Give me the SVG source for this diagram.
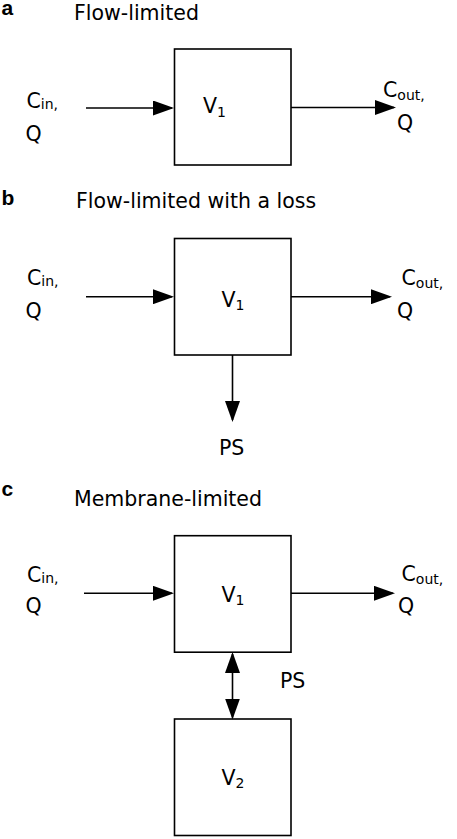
<svg xmlns="http://www.w3.org/2000/svg" width="457" height="839" viewBox="0 0 457 839">
<style>
text{font-family:"DejaVu Sans","Liberation Sans",sans-serif;font-size:20.5px;fill:#000}
.sub{font-size:14px}
.lbl{font-family:"Liberation Sans",Arial,sans-serif;font-weight:bold;font-size:21px}
.box{fill:#fff;stroke:#000;stroke-width:1.6}
.con line{stroke:#000;stroke-width:1.6;fill:none}
</style>
<defs>
<marker id="ah" markerUnits="userSpaceOnUse" viewBox="0 0 21 15" markerWidth="21" markerHeight="15" refX="19" refY="7.5" orient="auto-start-reverse">
<path d="M0,0 L21,7.5 L0,15 Z" fill="#000"/>
</marker>
</defs>
<rect width="457" height="839" fill="#fff"/>

<!-- Panel a -->
<text class="lbl" x="1.5" y="14.5">a</text>
<text x="74" y="19.5">Flow-limited</text>
<g id="a-V1">
<rect class="box" x="174.5" y="49" width="116.5" height="116"/>
<text x="203" y="113.3">V<tspan class="sub" dy="3.4">1</tspan></text>
</g>
<g id="a-in"><text x="26.5" y="108.3">C<tspan class="sub" dy="1">in,</tspan></text><text x="25.5" y="140.5">Q</text></g>
<g id="a-out"><text x="383" y="96.7">C<tspan class="sub" dy="3">out,</tspan></text><text x="397" y="130">Q</text></g>

<!-- Panel b -->
<text class="lbl" x="1.5" y="205">b</text>
<text x="76" y="208">Flow-limited with a loss</text>
<g id="b-V1">
<rect class="box" x="174.5" y="238.5" width="116.5" height="116.5"/>
<text x="221.5" y="306.7">V<tspan class="sub" dy="3.4">1</tspan></text>
</g>
<g id="b-in"><text x="27" y="285">C<tspan class="sub" dy="1">in,</tspan></text><text x="25.5" y="318">Q</text></g>
<g id="b-out"><text x="401.5" y="285">C<tspan class="sub" dy="3">out,</tspan></text><text x="397" y="318">Q</text></g>
<g id="b-PS"><text x="219" y="455">PS</text></g>

<!-- Panel c -->
<text class="lbl" x="1.5" y="496">c</text>
<text x="74" y="506">Membrane-limited</text>
<g id="c-V1">
<rect class="box" x="174.5" y="535.7" width="116.5" height="116.5"/>
<text x="221.5" y="601.7">V<tspan class="sub" dy="3.4">1</tspan></text>
</g>
<g id="c-V2">
<rect class="box" x="174.5" y="719" width="116.5" height="116.5"/>
<text x="221.5" y="785">V<tspan class="sub" dy="3.4">2</tspan></text>
</g>
<g id="c-in"><text x="27" y="581.5">C<tspan class="sub" dy="1">in,</tspan></text><text x="25.5" y="613">Q</text></g>
<g id="c-out"><text x="401.5" y="580.7">C<tspan class="sub" dy="3">out,</tspan></text><text x="398" y="613">Q</text></g>
<g id="c-PS"><text x="280" y="688.3">PS</text></g>

<g class="con" id="connectors">
<line x1="86" y1="108" x2="172" y2="108" marker-end="url(#ah)"/>
<line x1="291" y1="107.5" x2="394" y2="107.5" marker-end="url(#ah)"/>
<line x1="86" y1="296.7" x2="172" y2="296.7" marker-end="url(#ah)"/>
<line x1="291" y1="296.7" x2="390" y2="296.7" marker-end="url(#ah)"/>
<line x1="232.5" y1="355" x2="232.5" y2="420" marker-end="url(#ah)"/>
<line x1="84" y1="593.3" x2="172" y2="593.3" marker-end="url(#ah)"/>
<line x1="291" y1="593.3" x2="393" y2="593.3" marker-end="url(#ah)"/>
<line x1="232.5" y1="654" x2="232.5" y2="717.5" marker-start="url(#ah)" marker-end="url(#ah)"/>
</g>
</svg>
